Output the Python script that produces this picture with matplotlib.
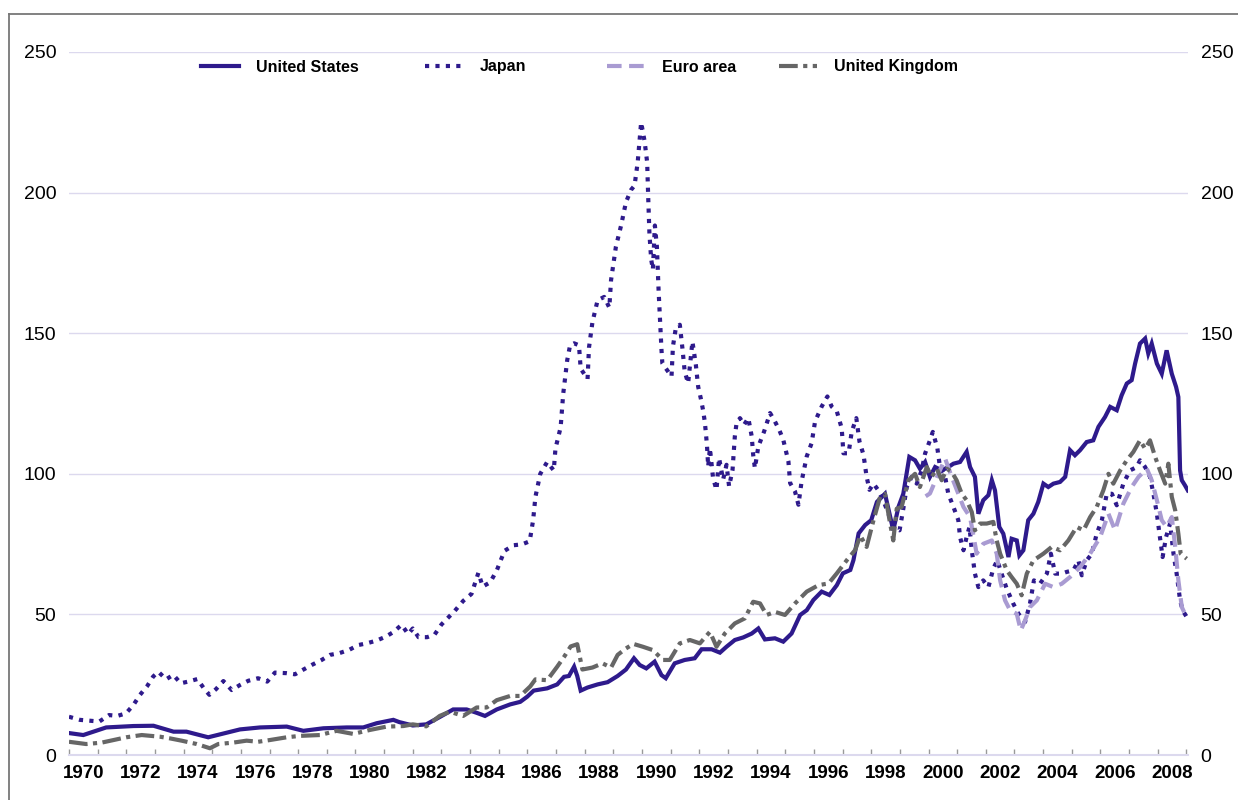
import matplotlib.pyplot as plt
from matplotlib.lines import Line2D

plt.rcParams['font.family'] = ['Liberation Sans', 'DejaVu Sans']

# equity price indices, 2000 = 100
us_years = [1970.0, 1970.5, 1971.3, 1972.25, 1972.95, 1973.65, 1974.1, 1974.86, 1975.5, 1975.97,
            1976.67, 1977.6, 1978.18, 1978.88, 1979.7, 1980.27, 1980.74, 1981.32, 1981.53, 1982.0,
            1982.47, 1982.94, 1983.41, 1983.88, 1984.23, 1984.52, 1984.93, 1985.4, 1985.75, 1985.99,
            1986.22, 1986.69, 1987.04, 1987.28, 1987.45, 1987.63, 1987.74, 1987.86, 1988.1, 1988.45,
            1988.8, 1989.15, 1989.44, 1989.72, 1989.92, 1990.15, 1990.44, 1990.68, 1990.83, 1991.14,
            1991.49, 1991.84, 1992.08, 1992.43, 1992.72, 1992.95, 1993.24, 1993.53, 1993.83, 1994.06,
            1994.29, 1994.64, 1994.93, 1995.22, 1995.52, 1995.75, 1995.98, 1996.27, 1996.54, 1996.8,
            1997.01, 1997.27, 1997.38, 1997.56, 1997.79, 1998.0, 1998.2, 1998.48, 1998.77, 1998.95,
            1999.12, 1999.33, 1999.53, 1999.7, 1999.88, 2000.05, 2000.23, 2000.46, 2000.69, 2000.87,
            2001.1, 2001.33, 2001.45, 2001.62, 2001.74, 2001.91, 2002.09, 2002.21, 2002.32, 2002.47,
            2002.61, 2002.79, 2002.9, 2003.08, 2003.17, 2003.31, 2003.48, 2003.66, 2003.83, 2004.01,
            2004.18, 2004.36, 2004.59, 2004.77, 2004.94, 2005.11, 2005.29, 2005.52, 2005.75, 2005.93,
            2006.16, 2006.34, 2006.57, 2006.74, 2006.92, 2007.09, 2007.21, 2007.38, 2007.56, 2007.67,
            2007.79, 2007.97, 2008.14, 2008.31, 2008.49, 2008.64, 2008.72, 2008.78, 2008.84, 2008.95,
            2009.05]
us_vals = [7.8, 7.1, 9.8, 10.3, 10.4, 8.3, 8.3, 6.3, 7.9, 9.1,
           9.8, 10.1, 8.6, 9.5, 9.8, 9.8, 11.3, 12.5, 11.7, 10.5,
           10.9, 13.5, 16.2, 16.2, 15.0, 13.9, 16.2, 18.0, 18.9, 20.7,
           22.9, 23.7, 25.1, 27.8, 28.1, 31.4, 28.1, 22.9, 24.0, 25.1,
           25.9, 28.1, 30.4, 34.4, 32.0, 30.8, 33.2, 28.4, 27.3, 32.6,
           33.8, 34.4, 37.6, 37.6, 36.4, 38.5, 40.9, 41.8, 43.2, 45.0,
           41.1, 41.5, 40.3, 43.2, 49.8, 51.5, 55.1, 58.1, 56.9, 60.4,
           64.6, 65.8, 69.3, 78.8, 81.8, 83.5, 90.0, 92.9, 79.9, 88.2,
           92.9, 106.0, 104.8, 101.8, 104.2, 98.9, 102.4, 101.2, 102.4, 103.6,
           104.2, 107.8, 102.4, 98.9, 85.8, 90.6, 92.4, 97.7, 94.1, 81.1,
           78.7, 70.4, 76.9, 76.3, 71.0, 72.8, 83.5, 85.8, 90.0, 96.5,
           95.3, 96.5, 97.1, 98.9, 108.4, 106.6, 108.4, 111.3, 111.9, 116.7,
           120.2, 123.8, 122.6, 127.9, 132.1, 133.3, 139.2, 146.3, 148.1, 142.8,
           146.3, 139.2, 135.6, 143.9, 135.6, 130.9, 127.3, 101.2, 97.7, 95.9,
           94.1]

jp_years = [1970.0, 1970.38, 1970.73, 1971.06, 1971.4, 1971.69, 1971.99, 1972.25, 1972.48, 1972.73,
            1972.94, 1973.12, 1973.39, 1973.64, 1973.9, 1974.16, 1974.48, 1974.71, 1974.9, 1975.13,
            1975.39, 1975.68, 1975.97, 1976.26, 1976.6, 1976.92, 1977.19, 1977.6, 1977.89, 1978.15,
            1978.47, 1978.82, 1979.11, 1979.43, 1979.78, 1980.1, 1980.39, 1980.74, 1981.06, 1981.32,
            1981.61, 1981.84, 1982.0, 1982.2, 1982.5, 1982.76, 1983.0, 1983.47, 1983.76, 1984.05,
            1984.29, 1984.44, 1984.7, 1984.93, 1985.2, 1985.52, 1985.81, 1986.08, 1986.2, 1986.28,
            1986.45, 1986.69, 1986.92, 1986.98, 1987.16, 1987.25, 1987.39, 1987.49, 1987.63, 1987.8,
            1987.86, 1988.1, 1988.15, 1988.27, 1988.45, 1988.68, 1988.86, 1988.92, 1989.09, 1989.27,
            1989.44, 1989.62, 1989.74, 1989.85, 1989.97, 1990.09, 1990.18, 1990.22, 1990.26, 1990.32,
            1990.38, 1990.45, 1990.52, 1990.58, 1990.64, 1990.68, 1990.71, 1990.91, 1991.03, 1991.08,
            1991.18, 1991.32, 1991.41, 1991.49, 1991.61, 1991.76, 1991.88, 1991.96, 1992.05, 1992.13,
            1992.19, 1992.23, 1992.27, 1992.31, 1992.37, 1992.48, 1992.6, 1992.69, 1992.83, 1992.95,
            1993.04, 1993.16, 1993.24, 1993.3, 1993.42, 1993.56, 1993.71, 1993.83, 1993.88, 1993.94,
            1994.06, 1994.26, 1994.47, 1994.64, 1994.79, 1994.93, 1995.11, 1995.17, 1995.34, 1995.46,
            1995.57, 1995.75, 1995.92, 1996.04, 1996.27, 1996.47, 1996.62, 1996.8, 1996.97, 1997.03,
            1997.21, 1997.32, 1997.48, 1997.59, 1997.73, 1997.84, 1997.94, 1998.08, 1998.25, 1998.42,
            1998.6, 1998.77, 1998.99, 1999.12, 1999.24, 1999.41, 1999.59, 1999.76, 1999.88, 2000.05,
            2000.15, 2000.31, 2000.4, 2000.58, 2000.69, 2000.87, 2001.04, 2001.1, 2001.22, 2001.33,
            2001.43, 2001.51, 2001.62, 2001.74, 2001.91, 2002.09, 2002.26, 2002.4, 2002.55, 2002.73,
            2002.96, 2003.14, 2003.37, 2003.54, 2003.68, 2003.89, 2004.13, 2004.27, 2004.42, 2004.65,
            2004.82, 2005.06, 2005.23, 2005.35, 2005.52, 2005.7, 2005.87, 2006.05, 2006.22, 2006.4,
            2006.57, 2006.8, 2007.03, 2007.27, 2007.38, 2007.56, 2007.73, 2007.85, 2007.97, 2008.06,
            2008.17, 2008.29, 2008.43, 2008.55, 2008.66, 2008.78, 2008.87, 2009.01]
jp_vals = [13.6, 12.5, 12.2, 11.9, 14.2, 13.9, 14.8, 17.8, 21.4, 24.5,
           27.9, 29.6, 26.9, 28.5, 25.5, 26.1, 27.0, 23.7, 21.4, 23.4,
           26.3, 23.1, 24.9, 26.4, 27.3, 26.1, 29.3, 29.1, 28.7, 30.2,
           32.0, 33.8, 35.6, 36.2, 37.4, 39.1, 39.7, 40.7, 42.1, 43.7,
           46.3, 43.0, 45.0, 41.9, 41.9, 42.8, 46.4, 51.3, 54.8, 57.3,
           64.8, 59.9, 61.4, 65.6, 72.6, 74.6, 74.9, 76.0, 83.5, 91.8,
           100.0, 104.2, 101.2, 109.0, 116.5, 128.4, 140.4, 145.7, 146.4, 145.7,
           137.4, 133.7, 144.9, 153.9, 161.7, 162.9, 159.1, 168.9, 180.8, 188.3,
           196.6, 201.0, 202.5, 210.8, 225.0, 218.3, 210.8, 197.3, 185.3, 176.3,
           172.6, 188.3, 180.8, 165.0, 152.4, 144.1, 139.3, 136.4, 134.6, 145.3,
           151.8, 153.0, 144.7, 136.4, 132.2, 147.0, 138.7, 131.0, 126.9, 122.7,
           118.6, 114.5, 109.7, 102.6, 109.1, 98.5, 94.3, 105.6, 97.9, 103.2,
           95.5, 101.4, 113.3, 118.0, 119.8, 117.4, 119.8, 113.3, 106.8, 102.0,
           109.7, 115.0, 121.6, 118.6, 115.6, 112.1, 104.4, 96.7, 93.7, 89.0,
           97.3, 106.2, 110.9, 118.6, 123.9, 127.5, 123.9, 122.2, 116.2, 107.3,
           107.3, 115.0, 119.8, 111.5, 106.8, 98.9, 94.3, 96.5, 94.1, 90.6,
           85.8, 81.1, 79.9, 87.6, 95.3, 98.9, 96.5, 101.2, 107.2, 111.9,
           114.9, 109.0, 102.4, 98.9, 92.9, 88.2, 83.5, 77.5, 72.8, 77.5,
           81.1, 72.8, 64.5, 59.7, 62.1, 59.7, 66.3, 69.2, 64.5, 59.1,
           53.8, 50.2, 47.3, 53.8, 62.1, 60.9, 64.5, 71.6, 64.5, 64.5,
           65.1, 65.7, 69.2, 63.9, 69.2, 71.6, 78.7, 83.5, 92.9, 92.9,
           88.8, 96.5, 101.2, 102.4, 104.8, 102.4, 98.9, 92.9, 85.8, 78.7,
           70.4, 77.5, 82.3, 71.6, 64.5, 55.0, 51.4, 49.1]

euro_years = [1999.9, 2000.05, 2000.3, 2000.58, 2000.81, 2001.22, 2001.45, 2001.68, 2001.91, 2002.21,
              2002.38, 2002.5, 2002.67, 2002.85, 2003.08, 2003.22, 2003.37, 2003.54, 2003.78, 2004.07,
              2004.36, 2004.65, 2004.94, 2005.29, 2005.64, 2005.99, 2006.28, 2006.51, 2006.8, 2007.09,
              2007.33, 2007.62, 2007.79, 2007.97, 2008.14, 2008.31, 2008.49, 2008.61, 2008.72, 2008.84,
              2008.95]
euro_vals = [92.0, 93.0, 99.0, 105.4, 98.9, 88.2, 84.6, 71.6, 75.1, 76.3,
             71.6, 62.1, 55.0, 51.4, 50.2, 44.3, 47.9, 52.6, 55.0, 60.9,
             59.7, 60.9, 63.3, 66.8, 71.6, 77.5, 85.8, 79.9, 89.4, 95.3,
             98.9, 101.8, 97.7, 90.6, 83.5, 81.1, 84.6, 74.0, 62.1, 52.6,
             50.2]

uk_years = [1970.0, 1970.6, 1971.14, 1972.0, 1972.54, 1973.18, 1973.53, 1973.93, 1974.46, 1974.92,
            1975.21, 1975.73, 1976.2, 1976.6, 1977.0, 1977.6, 1978.06, 1978.76, 1979.34, 1979.92,
            1980.5, 1981.09, 1981.67, 1982.0, 1982.47, 1982.94, 1983.29, 1983.76, 1984.23, 1984.58,
            1984.93, 1985.4, 1985.75, 1986.1, 1986.28, 1986.69, 1987.04, 1987.28, 1987.51, 1987.74,
            1987.92, 1988.27, 1988.62, 1988.92, 1989.15, 1989.44, 1989.7, 1990.03, 1990.38, 1990.73,
            1990.97, 1991.32, 1991.67, 1992.02, 1992.37, 1992.6, 1992.89, 1993.24, 1993.59, 1993.88,
            1994.12, 1994.35, 1994.64, 1994.99, 1995.34, 1995.75, 1996.16, 1996.51, 1996.8, 1997.15,
            1997.44, 1997.62, 1997.84, 1998.08, 1998.31, 1998.48, 1998.66, 1998.77, 1998.89, 1999.06,
            1999.3, 1999.53, 1999.7, 1999.94, 2000.11, 2000.29, 2000.46, 2000.64, 2000.81, 2000.98,
            2001.16, 2001.33, 2001.51, 2001.62, 2001.8, 2002.03, 2002.26, 2002.38, 2002.5, 2002.73,
            2002.9, 2003.08, 2003.25, 2003.43, 2003.66, 2004.01, 2004.3, 2004.59, 2004.88, 2005.17,
            2005.41, 2005.64, 2005.87, 2006.1, 2006.28, 2006.45, 2006.69, 2006.92, 2007.15, 2007.38,
            2007.56, 2007.73, 2007.91, 2008.08, 2008.26, 2008.37, 2008.49, 2008.61, 2008.72, 2008.8,
            2009.01]
uk_vals = [4.7, 3.9, 4.4, 6.3, 7.1, 6.5, 5.9, 5.1, 3.9, 2.4,
           3.9, 4.4, 5.1, 4.7, 5.3, 6.3, 6.8, 7.1, 8.6, 7.5,
           8.9, 10.1, 10.3, 10.9, 10.2, 13.9, 15.4, 13.9, 16.9, 16.9,
           19.5, 21.0, 21.0, 24.4, 26.9, 26.6, 31.4, 34.9, 38.6, 39.4,
           30.4, 31.1, 32.6, 31.1, 35.6, 37.9, 39.5, 38.5, 37.3, 33.8,
           33.8, 39.7, 40.9, 39.7, 43.8, 38.5, 43.2, 46.8, 48.6, 54.5,
           53.9, 49.8, 50.9, 49.8, 53.9, 58.1, 60.4, 61.0, 64.6, 69.3,
           72.9, 78.0, 74.0, 83.5, 91.8, 92.9, 82.3, 76.3, 87.6, 88.2,
           97.7, 100.0, 95.3, 102.4, 98.9, 101.8, 97.7, 101.8, 100.7, 97.7,
           92.9, 90.6, 86.4, 79.9, 82.3, 82.3, 82.9, 76.3, 71.6, 65.7,
           63.3, 60.9, 56.8, 64.5, 69.2, 71.6, 74.0, 72.8, 76.3, 81.1,
           79.9, 84.6, 88.2, 94.1, 100.0, 96.5, 101.2, 104.8, 107.8, 111.9,
           108.9, 111.9, 106.0, 101.2, 96.5, 103.6, 91.8, 87.0, 78.7, 71.6,
           69.8]

label_years = list(range(1970, 2009, 2))
navy = '#2E1A8C'
lavender = '#A99BD2'
grey = '#666666'
grid_col = '#DCD9EE'

fig = plt.figure(figsize=(12.38, 8), dpi=100)
ax = fig.add_axes([0.0557, 0.05625, 0.904, 0.87875])

ax.plot(us_years, us_vals, color=navy, lw=3.0, solid_joinstyle='miter', label='United States')
ax.plot(jp_years, jp_vals, color=navy, lw=3.0, linestyle=(0, (1, 1.5)), dash_capstyle='butt',
        label='Japan')
ax.plot(euro_years, euro_vals, color=lavender, lw=3.0, linestyle=(0, (3.5, 1.8)), label='Euro area')
ax.plot(uk_years, uk_vals, color=grey, lw=3.0, linestyle=(0, (4.5, 1.3, 1.0, 1.3)),
        label='United Kingdom')

ax.set_xlim(1970, 2009.06)
ax.set_ylim(0, 250)
ax.set_yticks([0, 50, 100, 150, 200, 250])
ax.yaxis.grid(True, color=grid_col, lw=1.0)
ax.set_axisbelow(True)

for s in ['left', 'right', 'top']:
    ax.spines[s].set_visible(False)
ax.spines['bottom'].set_color(grid_col)
ax.spines['bottom'].set_linewidth(1.5)

# year ticks on boundaries, labels centred in even years
ax.set_xticks([y + 0.5 for y in label_years])
ax.set_xticklabels([str(y) for y in label_years], fontsize=13.5, fontweight='bold')
ax.set_xticks(list(range(1970, 2010)), minor=True)
ax.tick_params(axis='x', which='major', length=0, pad=7)
ax.tick_params(axis='x', which='minor', direction='in', length=4, color='#999999', width=1)
ax.tick_params(axis='y', length=0, labelsize=14, pad=9, labelleft=True, labelright=True)

# legend entries spread as in the original
positions = [201, 425, 607, 779]
lines = ax.get_lines()
for ln, px in zip(lines, positions):
    leg = fig.legend([ln], [ln.get_label()], loc='center left',
                     bbox_to_anchor=(px / 1238, 1 - 67 / 800), frameon=False,
                     fontsize=11.5, handlelength=2.35, handletextpad=1.1,
                     borderpad=0, borderaxespad=0)
    for t in leg.get_texts():
        t.set_fontweight('bold')

# outer frame lines (top and left)
fig.add_artist(Line2D([9 / 1238, 1.0], [1 - 14 / 800, 1 - 14 / 800], color='#777777', lw=1.3))
fig.add_artist(Line2D([9 / 1238, 9 / 1238], [0, 1 - 14 / 800], color='#777777', lw=1.3))

fig.savefig('out.png', dpi=100)
